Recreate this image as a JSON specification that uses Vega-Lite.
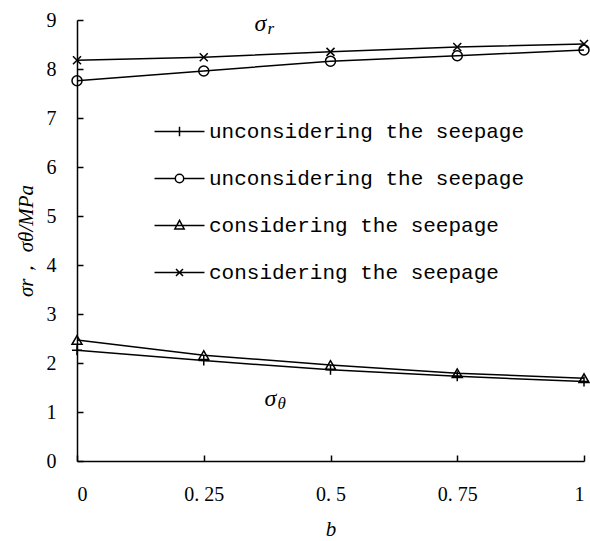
{
  "$schema": "https://vega.github.io/schema/vega-lite/v6.json",
  "width": 507,
  "height": 441,
  "autosize": {"type": "none"},
  "padding": {"left": 77, "top": 20, "right": 6, "bottom": 80},
  "background": "white",
  "config": {
    "view": {"stroke": null},
    "axis": {
      "domainColor": "black", "domainWidth": 1.5, "tickColor": "black", "tickWidth": 1.5,
      "grid": false, "labelColor": "black", "titleColor": "black",
      "labelFont": "Liberation Serif", "labelFontSize": 20, "titleFont": "Liberation Serif",
      "titleFontSize": 21, "titleFontStyle": "italic", "titleFontWeight": "normal"
    }
  },
  "layer": [
    {
      "data": {"name": "series", "values": [
        {"b": 0, "v": 2.26, "s": "A", "m": "plus"}, {"b": 0.25, "v": 2.05, "s": "A", "m": "plus"}, {"b": 0.5, "v": 1.86, "s": "A", "m": "plus"}, {"b": 0.75, "v": 1.73, "s": "A", "m": "plus"}, {"b": 1, "v": 1.62, "s": "A", "m": "plus"},
        {"b": 0, "v": 7.76, "s": "B", "m": "circle"}, {"b": 0.25, "v": 7.96, "s": "B", "m": "circle"}, {"b": 0.5, "v": 8.16, "s": "B", "m": "circle"}, {"b": 0.75, "v": 8.27, "s": "B", "m": "circle"}, {"b": 1, "v": 8.39, "s": "B", "m": "circle"},
        {"b": 0, "v": 2.47, "s": "C", "m": "triangle"}, {"b": 0.25, "v": 2.16, "s": "C", "m": "triangle"}, {"b": 0.5, "v": 1.96, "s": "C", "m": "triangle"}, {"b": 0.75, "v": 1.79, "s": "C", "m": "triangle"}, {"b": 1, "v": 1.69, "s": "C", "m": "triangle"},
        {"b": 0, "v": 8.18, "s": "D", "m": "cross"}, {"b": 0.25, "v": 8.24, "s": "D", "m": "cross"}, {"b": 0.5, "v": 8.35, "s": "D", "m": "cross"}, {"b": 0.75, "v": 8.45, "s": "D", "m": "cross"}, {"b": 1, "v": 8.51, "s": "D", "m": "cross"}
      ]},
      "layer": [
        {
          "mark": {"type": "line", "strokeWidth": 1.5},
          "encoding": {
            "x": {"field": "b", "type": "quantitative", "scale": {"domain": [0, 1], "nice": false},
              "axis": {"values": [0, 0.25, 0.5, 0.75, 1], "tickSize": -6, "labelPadding": 29,
                "labelExpr": "replace(toString(datum.value), '.', '. ')", "title": "b", "titlePadding": 14}},
            "y": {"field": "v", "type": "quantitative", "scale": {"domain": [0, 9], "nice": false},
              "axis": {"values": [0, 1, 2, 3, 4, 5, 6, 7, 8, 9], "tickSize": -6, "labelPadding": 27,
                "title": "σr， σθ/MPa", "titlePadding": 10}},
            "color": {"field": "s", "type": "nominal",
              "scale": {"domain": ["A", "B", "C", "D"], "range": ["black", "black", "black", "black"]},
              "legend": {
                "orient": "none", "legendX": 78, "legendY": 87, "title": null, "padding": 0,
                "direction": "vertical", "rowPadding": 12, "symbolSize": 2180, "symbolStrokeWidth": 1.5,
                "symbolStrokeColor": "black", "symbolFillColor": "transparent", "labelOffset": 5,
                "labelFont": "Liberation Mono", "labelFontSize": 21, "labelColor": "black", "labelLimit": 0,
                "labelExpr": "datum.value === 'A' || datum.value === 'B' ? 'unconsidering the seepage' : 'considering the seepage'",
                "encode": {"symbols": {"update": {
                  "fill": {"value": "transparent"},
                  "stroke": {"value": "black"},
                  "shape": {"signal": "datum.value === 'A' ? 'M-1.07,0H1.07M0,-0.2V0.2' : datum.value === 'B' ? 'M-1.07,0H-0.18M0.18,0H1.07M-0.18,0A0.18,0.18,0,1,0,0.18,0A0.18,0.18,0,1,0,-0.18,0' : datum.value === 'C' ? 'M-1.07,0H1.07M0,-0.22L0.2,0.15L-0.2,0.15Z' : 'M-1.07,0H1.07M-0.15,-0.15L0.15,0.15M-0.15,0.15L0.15,-0.15'"}
                }}}
              }}
          }
        },
        {
          "mark": {"type": "point", "filled": false, "stroke": "black", "strokeWidth": 1.5, "size": 100, "opacity": 1},
          "encoding": {
            "x": {"field": "b", "type": "quantitative"},
            "y": {"field": "v", "type": "quantitative"},
            "shape": {"field": "m", "type": "nominal",
              "scale": {"domain": ["plus", "circle", "triangle", "cross"], "range": ["M-1,0H1M0,-1V1", "circle", "triangle-up", "M-0.8,-0.8L0.8,0.8M-0.8,0.8L0.8,-0.8"]},
              "legend": null}
          }
        }
      ]
    },
    {
      "data": {"name": "notes", "values": [
        {"b": 0.35, "v": 8.92, "main": "σ", "sub": "r"},
        {"b": 0.37, "v": 1.27, "main": "σ", "sub": "θ"}
      ]},
      "layer": [
        {
          "mark": {"type": "text", "font": "Liberation Serif", "fontSize": 24, "fontStyle": "italic", "align": "left", "baseline": "middle", "color": "black"},
          "encoding": {
            "x": {"field": "b", "type": "quantitative"},
            "y": {"field": "v", "type": "quantitative"},
            "text": {"field": "main"}
          }
        },
        {
          "mark": {"type": "text", "font": "Liberation Serif", "fontSize": 17, "fontStyle": "italic", "align": "left", "baseline": "middle", "dx": 13, "dy": 5, "color": "black"},
          "encoding": {
            "x": {"field": "b", "type": "quantitative"},
            "y": {"field": "v", "type": "quantitative"},
            "text": {"field": "sub"}
          }
        }
      ]
    }
  ]
}
